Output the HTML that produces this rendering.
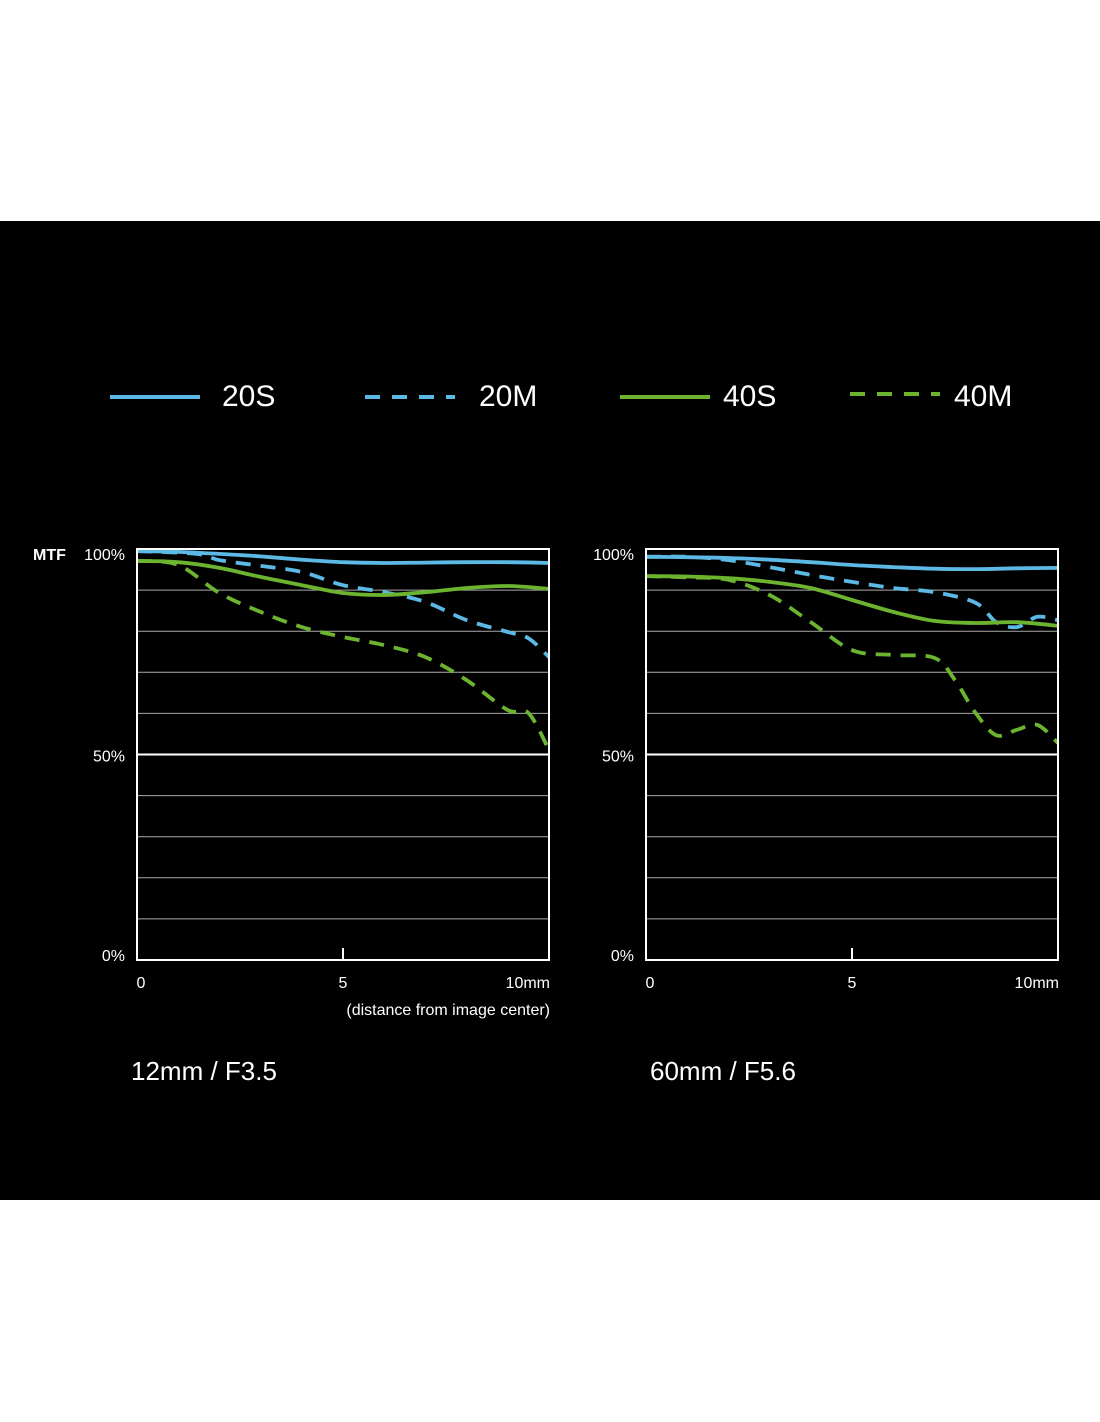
<!DOCTYPE html>
<html><head><meta charset="utf-8"><style>
html,body{margin:0;padding:0;background:#fff;}
body{width:1100px;height:1422px;position:relative;font-family:"Liberation Sans",sans-serif;}
#band{position:absolute;left:0;top:221px;width:1100px;height:979px;background:#000;}
svg{position:absolute;left:0;top:0;}
</style></head><body>
<div id="band"></div>
<svg id="c" width="1100" height="1422"></svg>
<script>
const xTicks=[0,5,10];
const xTickLabels=["0","5","10mm"];
const yTickLabels=["100%","50%","0%"];
const yTickVals=[100,50,0];
const seriesNames=["20S","20M","40S","40M"];
// left chart (12mm / F3.5)
const L_x20S=[0,1,2,3,4,5,6,7,8,9,10];
const L_20S=[99.5,99.3,98.8,98.2,97.4,96.8,96.6,96.7,96.8,96.8,96.6];
const L_x20M=[0,1.45,2,3,4,5,6,7,8,9,9.5,10];
const L_20M=[99.5,98.8,97.3,95.9,94.4,91.2,89.5,87.1,82.7,79.8,78.3,73.7];
const L_x40S=[0,1,2,3,4,5,6,7,8,9,10];
const L_40S=[97.1,96.8,95.4,93.2,91.2,89.3,88.8,89.5,90.5,91.0,90.3];
const L_x40M=[0,1,2,3,4,5,6,7,8,9,9.5,10];
const L_40M=[97.1,96.1,89.3,84.7,81.0,78.6,76.6,73.7,68.1,60.8,60.1,51.1];
// right chart (60mm / F5.6)
const R_x20S=[0,1,2,3,4,5,6,7,8,9,10];
const R_20S=[98.1,98.0,97.8,97.4,96.8,96.1,95.6,95.2,95.1,95.3,95.4];
const R_x20M=[0,1,2,3,4,5,6,7,8,8.5,9,9.5,10];
const R_20M=[98.1,98.1,97.3,95.6,93.7,92.0,90.5,89.5,86.9,82.2,81.0,83.5,82.7];
const R_x40S=[0,1,2,3,4,5,6,7,8,9,10];
const R_40S=[93.4,93.3,92.9,92.0,90.5,87.6,84.7,82.5,82.0,82.2,81.3];
const R_x40M=[0,1,2,3,4,5,6,7,7.5,8,8.5,9,9.5,10];
const R_40M=[93.4,93.1,92.5,88.8,82.2,75.4,74.2,73.5,68.1,60.1,54.7,56.0,57.2,52.8];

const NS='http://www.w3.org/2000/svg';
const svg=document.getElementById('c');
function mk(tag,attrs,parent){const e=document.createElementNS(NS,tag);for(const k in attrs)e.setAttribute(k,attrs[k]);(parent||svg).appendChild(e);return e;}
const BLUE='#5cb8e4',GREEN='#6cb42f';
const styles={"20S":[BLUE,null],"20M":[BLUE,"15 10"],"40S":[GREEN,null],"40M":[GREEN,"15 10"]};

// legend
const legX=[110,365,620,850];const legTX=[222,479,723,954];
seriesNames.forEach((n,i)=>{
  const g=mk('g',{});
  
  
  const st=styles[n];
  mk('line',{x1:legX[i],y1:i==3?394:397,x2:legX[i]+90,y2:i==3?394:397,stroke:st[0],'stroke-width':4,'stroke-dasharray':st[1]?'15 12':'none'},g);
  const t=mk('text',{x:legTX[i],y:406,fill:'#fff','font-size':30},g);t.textContent=n;
});

function path(xs,ys,sx,sy){
  const P=xs.map((x,i)=>[sx(x),sy(ys[i])]);
  let d='M'+P[0][0]+','+P[0][1];
  for(let i=0;i<P.length-1;i++){
    const p0=P[Math.max(0,i-1)],p1=P[i],p2=P[i+1],p3=P[Math.min(P.length-1,i+2)];
    const c1=[p1[0]+(p2[0]-p0[0])/6,p1[1]+(p2[1]-p0[1])/6];
    const c2=[p2[0]-(p3[0]-p1[0])/6,p2[1]-(p3[1]-p1[1])/6];
    d+=' C'+c1[0].toFixed(1)+','+c1[1].toFixed(1)+' '+c2[0].toFixed(1)+','+c2[1].toFixed(1)+' '+p2[0].toFixed(1)+','+p2[1].toFixed(1);
  }
  return d;
}

function chart(id,x0,series,title,titleX,showMTF,showXTitle){
  const W=412,top=549,bot=960;
  const sx=v=>x0+v/10*W, sy=v=>bot-v/100*(bot-top);
  const g=mk('g',{});
  
  
  for(let p=10;p<100;p+=10){
    const l=mk('line',{x1:x0,x2:x0+W,y1:sy(p),y2:sy(p),stroke:p==50?'#fff':'#aaa','stroke-width':p==50?2:1},g);
    
    
  }
  series.forEach(s=>{
    const st=styles[s.n];
    const pe=mk('path',{d:path(s.x,s.y,sx,sy),fill:'none',stroke:st[0],'stroke-width':3.8,'stroke-dasharray':st[1]||'none','stroke-linecap':'butt'},g);
    
    
  });
  const fr=mk('rect',{x:x0,y:top,width:W,height:bot-top,fill:'none',stroke:'#fff','stroke-width':2},g);
  
  
  mk('line',{x1:sx(5),x2:sx(5),y1:bot,y2:bot-12,stroke:'#fff','stroke-width':2},g);
  yTickVals.forEach((v,i)=>{
    const t=mk('text',{x:x0-12,y:sy(v)+6+(v==100?5:(v==0?-5:1)),fill:'#fff','font-size':16,'text-anchor':'end'},g);
    
    
    t.textContent=yTickLabels[i];
  });
  xTicks.forEach((v,i)=>{
    const t=mk('text',{x:i==2?sx(v)+1:(i==0?sx(v)+4:sx(v)),y:988,fill:'#fff','font-size':16,'text-anchor':i==2?'end':'middle'},g);
    
    
    t.textContent=xTickLabels[i];
  });
  if(showMTF){const t=mk('text',{x:33,y:560,fill:'#fff','font-size':16,'font-weight':'bold'},g);t.textContent='MTF';
    }
  if(showXTitle){const t=mk('text',{x:x0+W+1,y:1015,fill:'#fff','font-size':16,'text-anchor':'end'},g);t.textContent='(distance from image center)';
    }
  const tt=mk('text',{x:titleX,y:1080,fill:'#fff','font-size':26},g);tt.textContent=title;
  
}
chart('chart-12mm',137,[{n:'20S',x:L_x20S,y:L_20S},{n:'20M',x:L_x20M,y:L_20M},{n:'40S',x:L_x40S,y:L_40S},{n:'40M',x:L_x40M,y:L_40M}],'12mm / F3.5',131,true,true);
chart('chart-60mm',646,[{n:'20S',x:R_x20S,y:R_20S},{n:'20M',x:R_x20M,y:R_20M},{n:'40S',x:R_x40S,y:R_40S},{n:'40M',x:R_x40M,y:R_40M}],'60mm / F5.6',650,false,false);
</script>
</body></html>
